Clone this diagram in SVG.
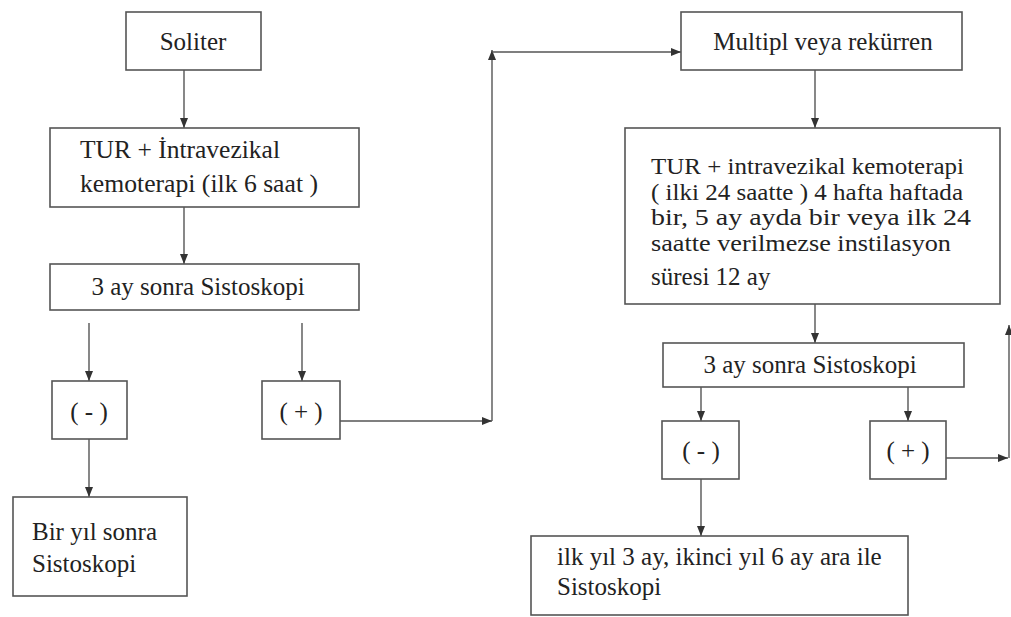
<svg xmlns="http://www.w3.org/2000/svg" width="1011" height="617" viewBox="0 0 1011 617">
<defs>
<marker id="ah" markerWidth="10" markerHeight="8" refX="10" refY="4" orient="auto" markerUnits="userSpaceOnUse">
<path d="M0,0 L10,4 L0,8 Z" fill="#333"/>
</marker>
<style>
.box{fill:#fff;stroke:#555;stroke-width:1.6}
.t{font-family:'Liberation Serif','Times New Roman',serif;font-size:25px;fill:#222}
.s{font-size:23px}
.c{text-anchor:middle}
.ln{fill:none;stroke:#555;stroke-width:1.4}
</style>
</defs>
<rect width="1011" height="617" fill="#fff"/>
<g id="connectors">
<path class="ln" d="M184,70 V128" marker-end="url(#ah)"/>
<path class="ln" d="M184,207 V264" marker-end="url(#ah)"/>
<path class="ln" d="M89,323 V381" marker-end="url(#ah)"/>
<path class="ln" d="M302,323 V381" marker-end="url(#ah)"/>
<path class="ln" d="M89,439 V497" marker-end="url(#ah)"/>
<path class="ln" d="M340,421 H492" marker-end="url(#ah)"/>
<path class="ln" d="M492,421 V50" marker-end="url(#ah)"/>
<path class="ln" d="M492,52 H681" marker-end="url(#ah)"/>
<path class="ln" d="M815,70 V128" marker-end="url(#ah)"/>
<path class="ln" d="M815,304 V343" marker-end="url(#ah)"/>
<path class="ln" d="M701,387 V421" marker-end="url(#ah)"/>
<path class="ln" d="M908,387 V421" marker-end="url(#ah)"/>
<path class="ln" d="M701,479 V536" marker-end="url(#ah)"/>
<path class="ln" d="M946,458 H1008" marker-end="url(#ah)"/>
<path class="ln" d="M1009,458 V325" marker-end="url(#ah)"/>
</g>
<g id="soliter">
<rect class="box" x="126" y="12" width="135" height="58"/>
<text class="t c" x="193" y="50">Soliter</text>
</g>
<g id="tur-left">
<rect class="box" x="50" y="128" width="309" height="79"/>
<text class="t" x="80" y="158" textLength="200" lengthAdjust="spacingAndGlyphs">TUR + İntravezikal</text>
<text class="t" x="80" y="192" textLength="238" lengthAdjust="spacingAndGlyphs">kemoterapi (ilk 6 saat )</text>
</g>
<g id="sisto-left">
<rect class="box" x="50" y="264" width="309" height="46"/>
<text class="t c" x="198" y="295">3 ay sonra Sistoskopi</text>
</g>
<g id="neg-left">
<rect class="box" x="52" y="381" width="75" height="58"/>
<text class="t c" x="89" y="420">( - )</text>
</g>
<g id="pos-left">
<rect class="box" x="262" y="381" width="78" height="58"/>
<text class="t c" x="301" y="420">( + )</text>
</g>
<g id="bir-yil">
<rect class="box" x="13" y="497" width="174" height="99"/>
<text class="t" x="32" y="540">Bir yıl sonra</text>
<text class="t" x="32" y="572">Sistoskopi</text>
</g>
<g id="multipl">
<rect class="box" x="681" y="12" width="281" height="58"/>
<text class="t c" x="823" y="50">Multipl veya rekürren</text>
</g>
<g id="tur-right">
<rect class="box" x="625" y="128" width="375" height="176"/>
<text class="t s" x="651" y="174" textLength="313" lengthAdjust="spacingAndGlyphs">TUR + intravezikal kemoterapi</text>
<text class="t s" x="651" y="199.5" textLength="312" lengthAdjust="spacingAndGlyphs">( ilki 24 saatte ) 4 hafta haftada</text>
<text class="t s" x="651" y="225" textLength="320" lengthAdjust="spacingAndGlyphs">bir, 5  ay  ayda  bir  veya  ilk 24</text>
<text class="t s" x="651" y="251" textLength="300" lengthAdjust="spacingAndGlyphs">saatte  verilmezse  instilasyon</text>
<text class="t" x="651" y="285">süresi 12 ay</text>
</g>
<g id="sisto-right">
<rect class="box" x="663" y="343" width="301" height="44"/>
<text class="t c" x="810" y="373">3 ay sonra Sistoskopi</text>
</g>
<g id="neg-right">
<rect class="box" x="662" y="421" width="77" height="58"/>
<text class="t c" x="701" y="459">( - )</text>
</g>
<g id="pos-right">
<rect class="box" x="870" y="421" width="76" height="58"/>
<text class="t c" x="908" y="459">( + )</text>
</g>
<g id="ilk-yil">
<rect class="box" x="531" y="536" width="377" height="79"/>
<text class="t" x="557" y="565">ilk yıl 3 ay, ikinci yıl 6 ay ara ile</text>
<text class="t" x="557" y="595">Sistoskopi</text>
</g>
</svg>
